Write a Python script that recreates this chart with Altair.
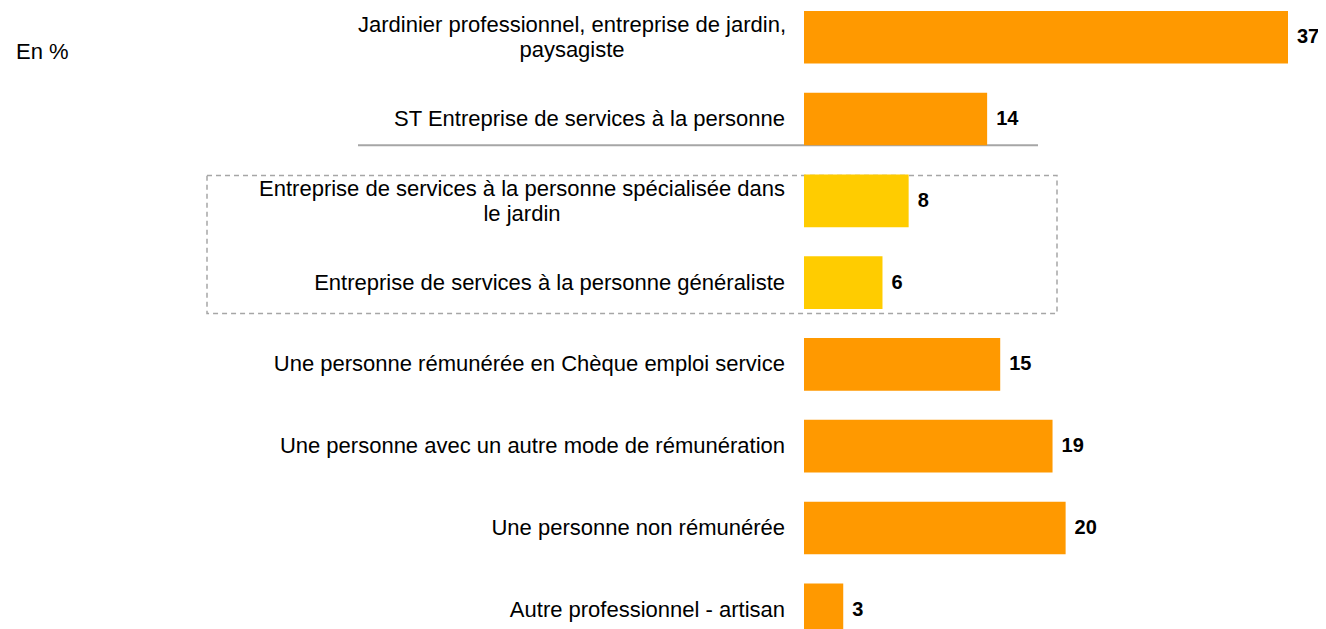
import altair as alt
import pandas as pd

categories = [
    "Jardinier professionnel, entreprise de jardin,\npaysagiste",
    "ST Entreprise de services à la personne",
    "Entreprise de services à la personne spécialisée dans\nle jardin",
    "Entreprise de services à la personne généraliste",
    "Une personne rémunérée en Chèque emploi service",
    "Une personne avec un autre mode de rémunération",
    "Une personne non rémunérée",
    "Autre professionnel - artisan",
]
values = [37, 14, 8, 6, 15, 19, 20, 3]
groups = ["total", "total", "detail", "detail", "total", "total", "total", "total"]
unit_label = "En %"

df = pd.DataFrame({"cat": categories, "val": values, "grp": groups})

FONT = "Liberation Sans"
ORANGE = "#FF9900"
YELLOW = "#FFCC00"
GREY = "#A6A6A6"

yscale = alt.Scale(domain=categories, paddingInner=0.357, paddingOuter=0)
Y = alt.Y("cat:N", sort=categories, scale=yscale, axis=None)
X = alt.X("val:Q", scale=alt.Scale(domain=[0, 37], nice=False, zero=True), axis=None)

bars = alt.Chart(df).mark_bar().encode(
    x=X,
    y=Y,
    color=alt.Color("grp:N", scale=alt.Scale(domain=["total", "detail"], range=[ORANGE, YELLOW]), legend=None),
)

vals = alt.Chart(df).mark_text(
    align="left", baseline="middle", dx=9, font=FONT, fontSize=20, fontWeight="bold", color="#000000"
).encode(x=X, y=Y, text=alt.Text("val:Q"))

base_lbl = alt.Chart(df)
single = base_lbl.transform_filter("indexof(datum.cat, '\\n') < 0").mark_text(
    align="right", baseline="middle", font=FONT, fontSize=22, color="#000000"
).encode(y=Y, x=alt.value(-19), text="cat:N")

multi1 = base_lbl.transform_filter(alt.datum.cat == categories[0]).mark_text(
    align="center", baseline="middle", font=FONT, fontSize=22, color="#000000",
    lineBreak="\n", lineHeight=25, dy=-12
).encode(y=Y, x=alt.value(-232), text="cat:N")

multi2 = base_lbl.transform_filter(alt.datum.cat == categories[2]).mark_text(
    align="center", baseline="middle", font=FONT, fontSize=22, color="#000000",
    lineBreak="\n", lineHeight=25, dy=-12
).encode(y=Y, x=alt.value(-282), text="cat:N")

sep = alt.Chart(pd.DataFrame({"cat": [categories[1]]})).mark_rule(color=GREY, strokeWidth=2).encode(
    y=alt.Y("cat:N", sort=categories, scale=yscale, axis=None, bandPosition=1),
    x=alt.value(-446),
    x2=alt.value(234),
)

box = alt.Chart(pd.DataFrame({"a": [categories[2]], "b": [categories[3]]})).mark_rect(
    fillOpacity=0, stroke=GREY, strokeWidth=1.5, strokeDash=[5, 4], yOffset=1, y2Offset=31
).encode(
    y=alt.Y("a:N", sort=categories, scale=yscale, axis=None, bandPosition=0),
    y2="b:N",
    x=alt.value(-597),
    x2=alt.value(253),
)

unit = alt.Chart(pd.DataFrame({"t": [unit_label]})).mark_text(
    align="left", baseline="middle", font=FONT, fontSize=22, color="#000000"
).encode(text="t:N", x=alt.value(-788), y=alt.value(41))

chart = alt.layer(box, sep, bars, vals, single, multi1, multi2, unit).properties(
    width=484,
    height=625,
    autosize=alt.AutoSizeParams(type="none"),
    padding={"left": 796, "top": 3, "right": 30, "bottom": 0},
).configure_view(stroke=None)

chart.save("out.html", embed_options={"renderer": "svg", "actions": False})
